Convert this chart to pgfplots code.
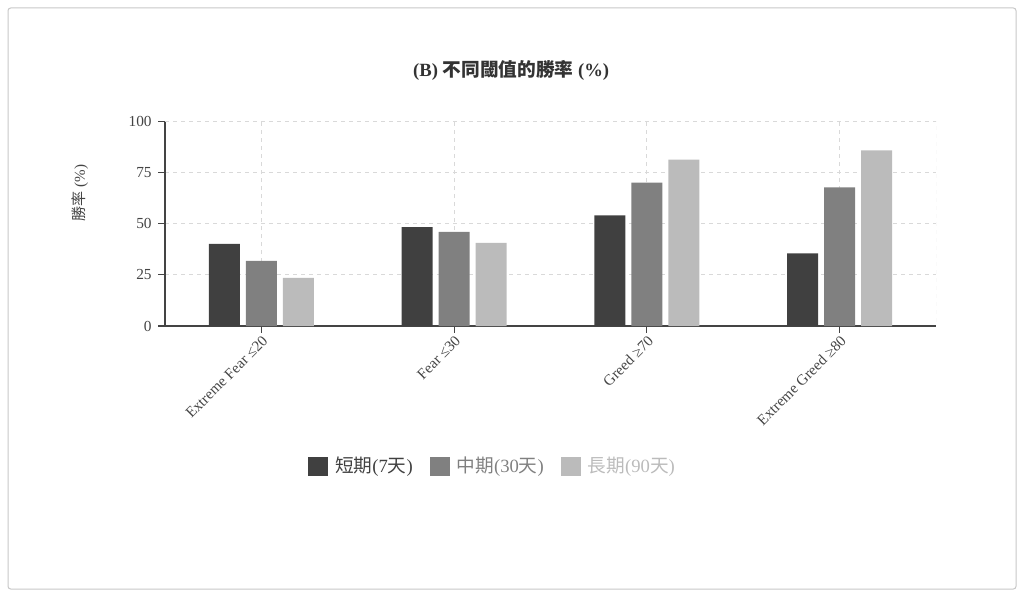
\documentclass[border=0pt]{standalone}
\usepackage{fontspec}
\setmainfont{Liberation Serif}
\newfontfamily\cjk{Noto Sans CJK TC}
\usepackage{pgfplots}
\pgfplotsset{compat=1.18}

\definecolor{cdark}{HTML}{404040}
\definecolor{cmid}{HTML}{808080}
\definecolor{clight}{HTML}{BBBBBB}
\definecolor{ctext}{HTML}{444444}

\begin{document}
\begin{tikzpicture}[x=0.75pt,y=0.75pt]
% page = 1024 x 597 px, 1px = 0.75pt
\path (0,0) rectangle (1024,597);
\draw[black!22, line width=0.75pt, rounded corners=2pt] (8,8) rectangle (1016,589);

\begin{axis}[
  at={(165pt*0.75,271pt*0.75)}, anchor=south west,
  width=578.25pt, height=153.4pt, scale only axis,
  ybar=4.5pt, bar width=23.25pt,
  xmin=-0.5, xmax=3.5, ymin=0, ymax=100,
  xtick={0,1,2,3},
  xticklabels={Extreme Fear ≤20, Fear ≤30, Greed ≥70, Extreme Greed ≥80},
  ytick={0,25,50,75,100},
  axis x line*=bottom, axis y line*=left,
  axis line style={ctext, line width=0.8pt},
  tick align=outside, major tick length=5pt,
  tick style={ctext, line width=0.8pt},
  xmajorgrids, ymajorgrids,
  grid style={black!15, dashed, line width=0.6pt},
  ticklabel style={ctext},
  yticklabel style={font=\fontsize{11.5}{12}\selectfont, xshift=-1.5pt},
  xticklabel style={font=\fontsize{11.3}{12}\selectfont, rotate=45, anchor=north east, inner sep=1pt},
  /pgf/number format/assume math mode=true,
  ylabel={{\cjk 勝率} (\%)},
  ylabel style={font=\fontsize{11.3}{12}\selectfont, color=ctext,
    at={(axis description cs:-0.110,0.65)}, anchor=center},
  title={\bfseries (B) {\cjk 不同閾值的勝率} (\%)},
  title style={font=\fontsize{14}{15}\selectfont, color=black!80,
    at={(axis description cs:0.449,1.208)}, anchor=center},
  legend columns=3,
  legend style={draw=none, fill=none, at={(axis description cs:0.428,-0.685)}, anchor=center,
    font=\fontsize{14}{15}\selectfont,
    /tikz/every even column/.append style={column sep=8pt},
    nodes={inner xsep=5pt}},
  legend image code/.code={\fill[#1] (0pt,-7.5pt) rectangle (15pt,7pt);},
]
\addplot[fill=cdark, draw=none] coordinates {(0,40.1) (1,48.4) (2,54.1) (3,35.5)};
\addlegendentry{\textcolor{cdark}{{\cjk 短期}(7{\cjk 天})}}
\addplot[fill=cmid, draw=none] coordinates {(0,31.8) (1,46.0) (2,70.1) (3,67.8)};
\addlegendentry{\textcolor{cmid}{{\cjk 中期}(30{\cjk 天})}}
\addplot[fill=clight, draw=none] coordinates {(0,23.5) (1,40.6) (2,81.3) (3,85.9)};
\addlegendentry{\textcolor{clight}{{\cjk 長期}(90{\cjk 天})}}
\draw[black!15, dashed, line width=0.6pt] (rel axis cs:0,1) -- (rel axis cs:1,1) -- (rel axis cs:1,0);
\end{axis}
\end{tikzpicture}
\end{document}
